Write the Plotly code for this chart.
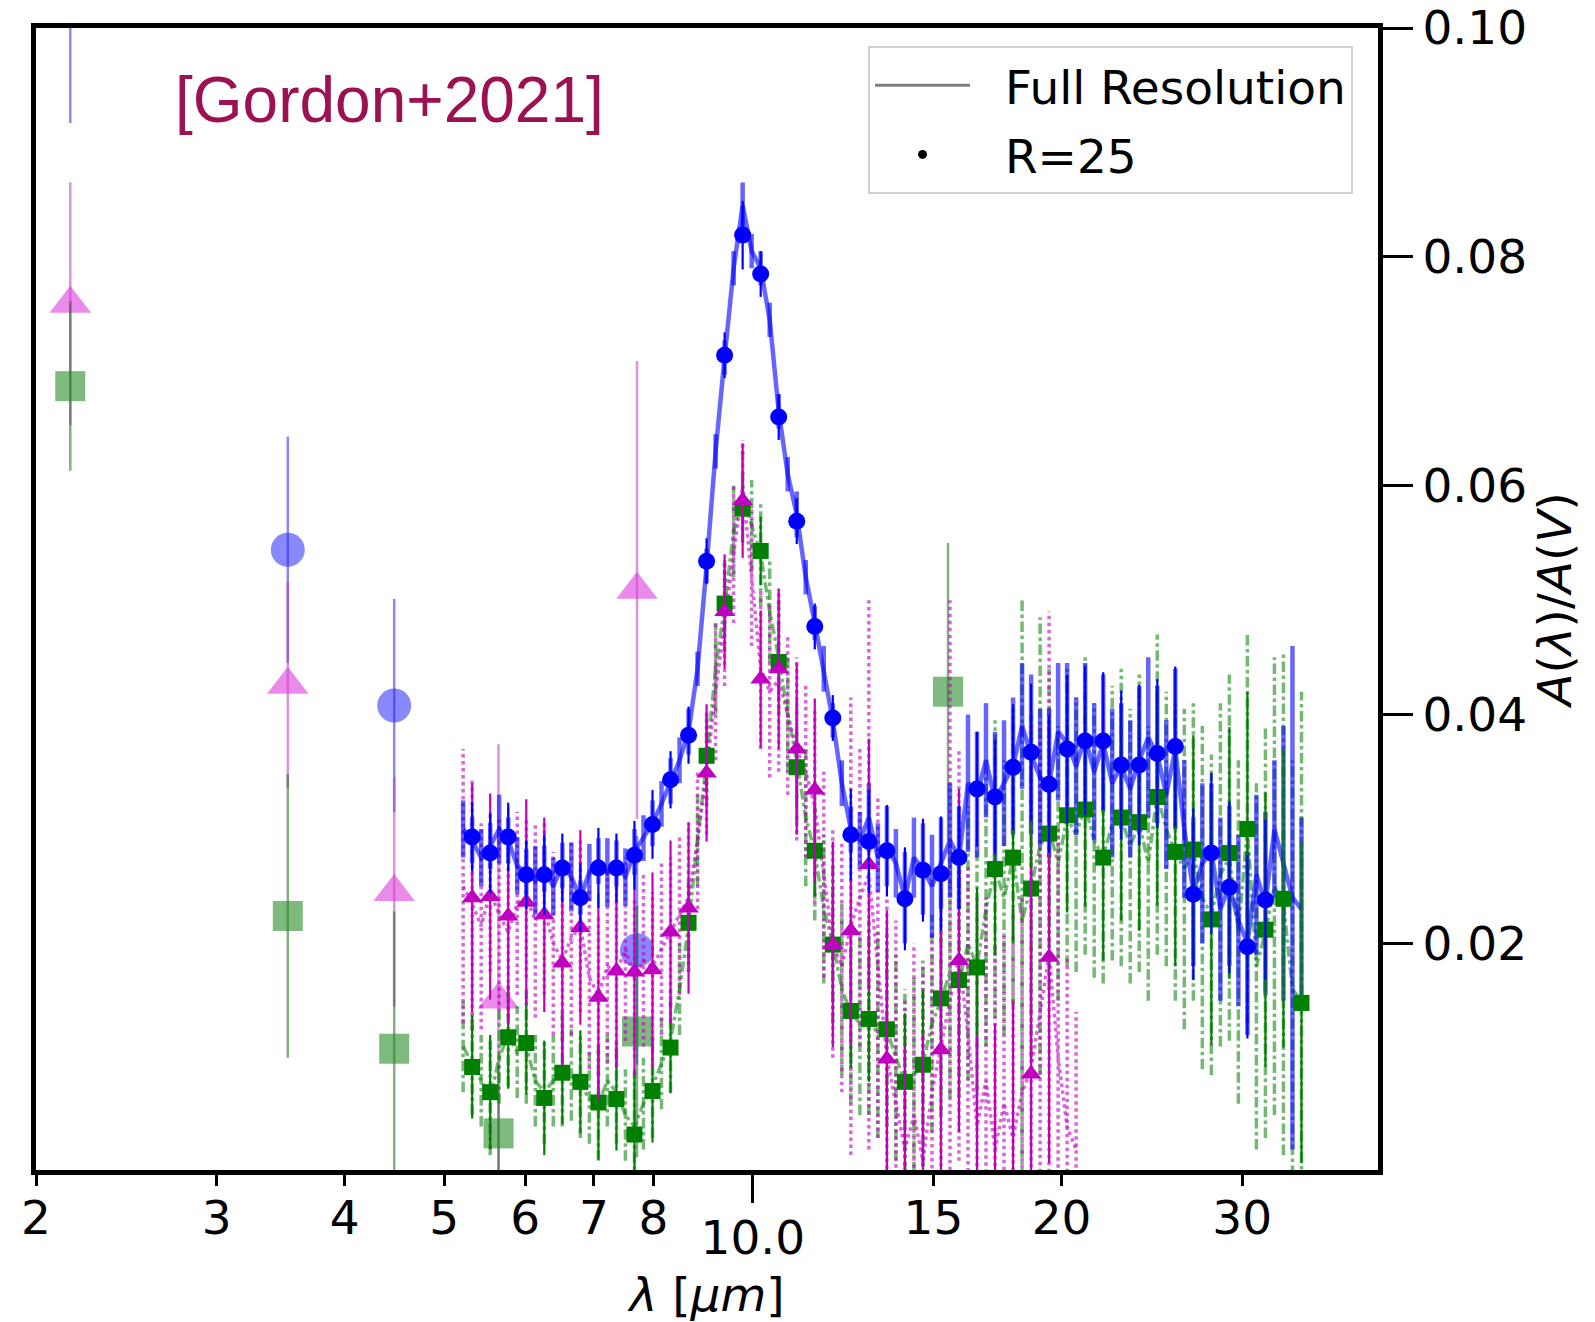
import math
import plotly.graph_objects as go

# ---------------- data ----------------
# R=25 binned wavelengths (micron)
R25_WAVE = [5.325, 5.545, 5.774, 6.013, 6.261, 6.520, 6.789, 7.070, 7.362, 7.666,
            7.983, 8.313, 8.656, 9.014, 9.386, 9.774, 10.178, 10.598, 11.036, 11.492,
            11.967, 12.461, 12.976, 13.512, 14.070, 14.651, 15.256, 15.886, 16.542, 17.225,
            17.937, 18.678, 19.449, 20.252, 21.089, 21.960, 22.867, 23.811, 24.795, 25.819,
            26.885, 27.996, 29.152, 30.356, 31.610, 32.915, 34.275]

BLUE_R25 = [0.0293, 0.0279, 0.0293, 0.0260, 0.0260, 0.0266, 0.0240, 0.0266, 0.0266, 0.0277,
            0.0304, 0.0343, 0.0382, 0.0534, 0.0714, 0.0819, 0.0785, 0.0660, 0.0569, 0.0477,
            0.0397, 0.0295, 0.0289, 0.0281, 0.0239, 0.0264, 0.0261, 0.0275, 0.0335, 0.0328,
            0.0354, 0.0367, 0.0339, 0.0370, 0.0377, 0.0377, 0.0356, 0.0356, 0.0366, 0.0372,
            0.0243, 0.0279, 0.0249, 0.0197, 0.0238]
BLUE_R25_ERR = [0.0030, 0.0035, 0.0030, 0.0030, 0.0035, 0.0030, 0.0030, 0.0035, 0.0030, 0.0030,
                0.0030, 0.0025, 0.0025, 0.0020, 0.0020, 0.0030, 0.0020, 0.0020, 0.0020, 0.0020,
                0.0020, 0.0040, 0.0045, 0.0040, 0.0045, 0.0045, 0.0050, 0.0045, 0.0050, 0.0050,
                0.0055, 0.0060, 0.0060, 0.0065, 0.0065, 0.0060, 0.0065, 0.0070, 0.0065, 0.0070,
                0.0075, 0.0070, 0.0075, 0.0080, 0.0070]

MAG_R25 = [0.0240, 0.0241, 0.0224, 0.0236, 0.0225, 0.0183, 0.0214, 0.0153, 0.0176, 0.0175,
           0.0177, 0.0210, 0.0231, 0.0349, 0.0490, 0.0587, 0.0431, 0.0440, 0.0370, 0.0334,
           0.0199, 0.0211, 0.0269, 0.0099, -0.0030, -0.0020, 0.0107, 0.0185, -0.0040, -0.0030,
           -0.0020, 0.0086, 0.0188]
MAG_R25_ERR = [0.0100, 0.0090, 0.0095, 0.0090, 0.0085, 0.0090, 0.0085, 0.0090, 0.0085, 0.0090,
               0.0085, 0.0080, 0.0075, 0.0060, 0.0050, 0.0050, 0.0060, 0.0070, 0.0075, 0.0080,
               0.0090, 0.0100, 0.0110, 0.0130, 0.0140, 0.0140, 0.0150, 0.0150, 0.0160, 0.0160,
               0.0170, 0.0180, 0.0180]

GRN_R25 = [0.0092, 0.0070, 0.0118, 0.0113, 0.0065, 0.0087, 0.0079, 0.0061, 0.0064, 0.0033,
           0.0071, 0.0109, 0.0218, 0.0364, 0.0497, 0.0580, 0.0543, 0.0446, 0.0354, 0.0281,
           0.0199, 0.0141, 0.0134, 0.0125, 0.0079, 0.0094, 0.0152, 0.0168, 0.0179, 0.0265,
           0.0275, 0.0248, 0.0296, 0.0312, 0.0317, 0.0275, 0.0310, 0.0306, 0.0328, 0.0280,
           0.0282, 0.0221, 0.0279, 0.0300, 0.0212, 0.0239, 0.0148]
GRN_R25_ERR = [0.0045, 0.0050, 0.0045, 0.0045, 0.0050, 0.0045, 0.0045, 0.0050, 0.0045, 0.0055,
               0.0045, 0.0040, 0.0035, 0.0030, 0.0030, 0.0030, 0.0030, 0.0035, 0.0035, 0.0040,
               0.0045, 0.0050, 0.0055, 0.0060, 0.0060, 0.0065, 0.0065, 0.0070, 0.0070, 0.0075,
               0.0075, 0.0080, 0.0080, 0.0085, 0.0085, 0.0090, 0.0090, 0.0095, 0.0095, 0.0100,
               0.0100, 0.0110, 0.0110, 0.0120, 0.0120, 0.0130, 0.0140]

# Full-resolution spectra (sampled)
FULL_WAVE = [5.218, 5.325, 5.434, 5.545, 5.658, 5.774, 5.892, 6.013, 6.136, 6.261,
             6.389, 6.520, 6.653, 6.789, 6.928, 7.070, 7.214, 7.362, 7.512, 7.666,
             7.823, 7.983, 8.146, 8.313, 8.483, 8.656, 8.833, 9.014, 9.198, 9.386,
             9.578, 9.774, 9.974, 10.178, 10.386, 10.598, 10.815, 11.036, 11.262, 11.492,
             11.727, 11.967, 12.212, 12.461, 12.716, 12.976, 13.241, 13.512, 13.788, 14.070,
             14.358, 14.651, 14.951, 15.256, 15.568, 15.886, 16.211, 16.542, 16.880, 17.225,
             17.577, 17.937, 18.304, 18.678, 19.060, 19.449, 19.847, 20.252, 20.666, 21.089,
             21.520, 21.960, 22.409, 22.867, 23.335, 23.811, 24.298, 24.795, 25.302, 25.819,
             26.347, 26.885, 27.435, 27.996, 28.568, 29.152, 29.748, 30.356, 30.977, 31.610,
             32.256, 32.915, 33.588, 34.275]

BLUE_FULL = [0.0300, 0.0290, 0.0275, 0.0285, 0.0300, 0.0290, 0.0268, 0.0262, 0.0255, 0.0265,
             0.0250, 0.0268, 0.0258, 0.0240, 0.0262, 0.0272, 0.0262, 0.0270, 0.0258, 0.0280,
             0.0292, 0.0305, 0.0322, 0.0342, 0.0360, 0.0385, 0.0440, 0.0530, 0.0630, 0.0712,
             0.0790, 0.0845, 0.0805, 0.0790, 0.0745, 0.0665, 0.0610, 0.0575, 0.0520, 0.0480,
             0.0440, 0.0395, 0.0340, 0.0300, 0.0290, 0.0310, 0.0275, 0.0285, 0.0270, 0.0240,
             0.0275, 0.0265, 0.0250, 0.0270, 0.0290, 0.0275, 0.0340, 0.0330, 0.0360, 0.0325,
             0.0340, 0.0355, 0.0390, 0.0365, 0.0345, 0.0340, 0.0385, 0.0375, 0.0355, 0.0380,
             0.0350, 0.0375, 0.0340, 0.0355, 0.0335, 0.0360, 0.0380, 0.0365, 0.0330, 0.0370,
             0.0300, 0.0245, 0.0270, 0.0280, 0.0230, 0.0250, 0.0220, 0.0200, 0.0260, 0.0235,
             0.0300, 0.0270, 0.0240, 0.0230]
BLUE_FULL_ERR = [0.0025, 0.0020, 0.0025, 0.0020, 0.0030, 0.0020, 0.0025, 0.0020, 0.0030, 0.0020,
                 0.0025, 0.0020, 0.0030, 0.0015, 0.0025, 0.0020, 0.0030, 0.0020, 0.0025, 0.0020,
                 0.0020, 0.0020, 0.0020, 0.0020, 0.0020, 0.0020, 0.0015, 0.0015, 0.0015, 0.0015,
                 0.0015, 0.0020, 0.0015, 0.0015, 0.0015, 0.0015, 0.0015, 0.0020, 0.0015, 0.0015,
                 0.0020, 0.0015, 0.0020, 0.0020, 0.0025, 0.0030, 0.0030, 0.0035, 0.0030, 0.0040,
                 0.0035, 0.0040, 0.0045, 0.0040, 0.0050, 0.0045, 0.0060, 0.0055, 0.0050, 0.0060,
                 0.0055, 0.0060, 0.0055, 0.0070, 0.0060, 0.0065, 0.0060, 0.0070, 0.0060, 0.0065,
                 0.0060, 0.0060, 0.0065, 0.0055, 0.0060, 0.0065, 0.0070, 0.0060, 0.0065, 0.0070,
                 0.0060, 0.0065, 0.0070, 0.0060, 0.0080, 0.0070, 0.0075, 0.0080, 0.0070, 0.0080,
                 0.0060, 0.0120, 0.0220, 0.0080]

MAG_FULL = [0.0250, 0.0235, 0.0215, 0.0245, 0.0225, 0.0210, 0.0235, 0.0240, 0.0220, 0.0230,
            0.0200, 0.0185, 0.0205, 0.0215, 0.0170, 0.0155, 0.0180, 0.0175, 0.0195, 0.0170,
            0.0185, 0.0180, 0.0195, 0.0210, 0.0225, 0.0240, 0.0290, 0.0350, 0.0420, 0.0480,
            0.0540, 0.0600, 0.0520, 0.0440, 0.0420, 0.0430, 0.0400, 0.0370, 0.0350, 0.0320,
            0.0260, 0.0200, 0.0180, 0.0215, 0.0240, 0.0260, 0.0180, 0.0100, 0.0060, 0.0020,
            0.0050, 0.0010, 0.0070, 0.0110, 0.0150, 0.0190, 0.0120, 0.0040, 0.0080, 0.0020,
            0.0060, 0.0030, 0.0070, 0.0090, 0.0140, 0.0190, 0.0100, 0.0040, 0.0020]
MAG_FULL_ERR = [0.0120, 0.0110, 0.0090, 0.0070, 0.0085, 0.0075, 0.0080, 0.0070, 0.0085, 0.0075,
                0.0080, 0.0070, 0.0085, 0.0075, 0.0080, 0.0070, 0.0085, 0.0075, 0.0080, 0.0070,
                0.0075, 0.0065, 0.0075, 0.0065, 0.0070, 0.0065, 0.0060, 0.0055, 0.0060, 0.0055,
                0.0060, 0.0040, 0.0060, 0.0070, 0.0075, 0.0080, 0.0070, 0.0080, 0.0075, 0.0085,
                0.0090, 0.0100, 0.0110, 0.0200, 0.0130, 0.0240, 0.0150, 0.0140, 0.0160, 0.0130,
                0.0150, 0.0170, 0.0140, 0.0160, 0.0350, 0.0180, 0.0150, 0.0200, 0.0160, 0.0180,
                0.0150, 0.0200, 0.0170, 0.0300, 0.0250, 0.0300, 0.0200, 0.0150, 0.0120]

GRN_FULL = [0.0110, 0.0095, 0.0080, 0.0065, 0.0100, 0.0120, 0.0105, 0.0110, 0.0080, 0.0070,
            0.0080, 0.0090, 0.0085, 0.0075, 0.0065, 0.0060, 0.0080, 0.0070, 0.0050, 0.0040,
            0.0060, 0.0075, 0.0095, 0.0115, 0.0160, 0.0215, 0.0290, 0.0360, 0.0440, 0.0495,
            0.0560, 0.0590, 0.0565, 0.0540, 0.0490, 0.0450, 0.0400, 0.0360, 0.0310, 0.0280,
            0.0230, 0.0200, 0.0160, 0.0140, 0.0130, 0.0135, 0.0120, 0.0125, 0.0100, 0.0080,
            0.0085, 0.0095, 0.0130, 0.0150, 0.0175, 0.0165, 0.0200, 0.0180, 0.0230, 0.0265,
            0.0240, 0.0275, 0.0220, 0.0250, 0.0285, 0.0300, 0.0270, 0.0310, 0.0295, 0.0320,
            0.0290, 0.0275, 0.0305, 0.0310, 0.0285, 0.0305, 0.0270, 0.0330, 0.0300, 0.0280,
            0.0265, 0.0280, 0.0240, 0.0225, 0.0260, 0.0275, 0.0210, 0.0300, 0.0180, 0.0210,
            0.0250, 0.0235, 0.0160, 0.0150]
GRN_FULL_ERR = [0.0040, 0.0045, 0.0040, 0.0050, 0.0040, 0.0045, 0.0040, 0.0050, 0.0040, 0.0045,
                0.0040, 0.0050, 0.0040, 0.0045, 0.0040, 0.0050, 0.0040, 0.0045, 0.0040, 0.0050,
                0.0040, 0.0045, 0.0040, 0.0045, 0.0040, 0.0040, 0.0040, 0.0040, 0.0040, 0.0040,
                0.0040, 0.0040, 0.0040, 0.0045, 0.0045, 0.0050, 0.0050, 0.0055, 0.0060, 0.0060,
                0.0065, 0.0070, 0.0075, 0.0080, 0.0080, 0.0085, 0.0090, 0.0085, 0.0090, 0.0080,
                0.0085, 0.0090, 0.0095, 0.0100, 0.0110, 0.0100, 0.0120, 0.0110, 0.0120, 0.0130,
                0.0120, 0.0130, 0.0280, 0.0150, 0.0200, 0.0140, 0.0120, 0.0130, 0.0120, 0.0130,
                0.0120, 0.0110, 0.0120, 0.0130, 0.0120, 0.0130, 0.0120, 0.0140, 0.0120, 0.0130,
                0.0140, 0.0130, 0.0150, 0.0140, 0.0150, 0.0160, 0.0150, 0.0170, 0.0160, 0.0180,
                0.0200, 0.0220, 0.0200, 0.0270]

# Photometric points (large, faded)
PHOT_WAVE = [2.16, 3.52, 4.47, 5.65, 7.71, 15.5]
BLUE_PHOT = [0.1060, 0.0544, 0.0408, None, 0.0194, None]
BLUE_PHOT_ERR = [0.0143, 0.0099, 0.0093, 0.0, 0.0100, 0.0]
MAG_PHOT = [0.0759, 0.0426, 0.0245, 0.0151, 0.0509, None]
MAG_PHOT_ERR = [0.0106, 0.0090, 0.0100, 0.0223, 0.0200, 0.0]
GRN_PHOT = [0.0687, 0.0224, 0.0108, 0.0034, 0.0123, 0.0420]
GRN_PHOT_ERR = [0.0074, 0.0124, 0.0120, 0.0060, 0.0110, 0.0130]

X_TICKS = [2, 3, 4, 5, 6, 7, 8, 15, 20, 30]
X_TICK_TEXT = ["2", "3", "4", "5", "6", "7", "8", "15", "20", "30"]
X_MAJOR = [10]
X_MAJOR_TEXT = ["10.0"]
Y_TICKS = [0.02, 0.04, 0.06, 0.08, 0.10]
Y_TICK_TEXT = ["0.02", "0.04", "0.06", "0.08", "0.10"]

# ---------------- figure ----------------
FONT = "DejaVu Sans"
FS = 47
fig = go.Figure()


def err_segments(xs, ys, es):
    sx, sy = [], []
    for x, y, e in zip(xs, ys, es):
        if y is None:
            continue
        sx += [x, x, None]
        sy += [y - e, y + e, None]
    return sx, sy


# photometric points
for ys, es, col, ecol, sym, size in [
    (BLUE_PHOT, BLUE_PHOT_ERR, "rgba(40,40,255,0.55)", "rgba(40,40,230,0.55)", "circle", 34),
    (MAG_PHOT, MAG_PHOT_ERR, "rgba(220,60,220,0.6)", "rgba(190,60,190,0.55)", "triangle-up", 36),
    (GRN_PHOT, GRN_PHOT_ERR, "rgba(40,140,40,0.6)", "rgba(30,110,30,0.55)", "square", 30),
]:
    fig.add_trace(go.Scatter(
        x=PHOT_WAVE, y=ys, mode="markers",
        marker=dict(symbol=sym, size=size, color=col, line=dict(width=0)),
        error_y=dict(type="data", array=es, visible=True, color=ecol, thickness=2.5, width=0),
        showlegend=False, hoverinfo="skip"))

# full resolution spectra + error bars
full_specs = [
    (GRN_FULL, GRN_FULL_ERR, "rgba(0,128,0,0.55)", "dashdot", 3.5),
    (MAG_FULL, MAG_FULL_ERR, "rgba(191,0,191,0.6)", "dot", 3.5),
    (BLUE_FULL, BLUE_FULL_ERR, "rgba(0,0,255,0.6)", "solid", 4.5),
]
for ys, es, col, dash, w in full_specs:
    xs = FULL_WAVE[:len(ys)]
    sx, sy = err_segments(xs, ys, es)
    fig.add_trace(go.Scatter(x=sx, y=sy, mode="lines",
                             line=dict(color=col, width=w, dash=dash),
                             showlegend=False, hoverinfo="skip"))
    fig.add_trace(go.Scatter(x=xs, y=ys, mode="lines",
                             line=dict(color=col, width=w, dash=dash),
                             showlegend=False, hoverinfo="skip"))

# R=25 points
for ys, es, col, sym, size in [
    (GRN_R25, GRN_R25_ERR, "#008000", "square", 16),
    (MAG_R25, MAG_R25_ERR, "#bf00bf", "triangle-up", 18),
    (BLUE_R25, BLUE_R25_ERR, "#0000ff", "circle", 17),
]:
    fig.add_trace(go.Scatter(
        x=R25_WAVE[:len(ys)], y=ys, mode="markers",
        marker=dict(symbol=sym, size=size, color=col, line=dict(width=0)),
        error_y=dict(type="data", array=es, visible=True, color=col, thickness=2.2, width=0),
        showlegend=False, hoverinfo="skip"))

# legend entries
NB = "\u00a0\u00a0"
fig.add_trace(go.Scatter(x=[None], y=[None], mode="lines", name=NB + "Full Resolution",
                         legendgroup="a", line=dict(color="#808080", width=3)))
fig.add_trace(go.Scatter(x=[None], y=[None], mode="markers", name=NB + "R=25",
                         legendgroup="b", marker=dict(color="black", size=9)))

# dummy trace on the major-tick axis
fig.add_trace(go.Scatter(x=X_MAJOR, y=[None], xaxis="x2", mode="markers",
                         showlegend=False, hoverinfo="skip"))

xr = [math.log10(2), math.log10(40.7)]

fig.update_layout(
    width=1595, height=1322,
    margin=dict(l=36, r=217, t=28, b=152),
    paper_bgcolor="white", plot_bgcolor="white",
    font=dict(family=FONT, size=FS, color="black"),
    showlegend=True,
    legend=dict(x=0.9814, y=0.984, xanchor="right", yanchor="top",
                bgcolor="white", bordercolor="#d0d0d0", borderwidth=2,
                font=dict(family=FONT, size=FS, color="black"),
                itemwidth=95, tracegroupgap=5, traceorder="grouped"),
    xaxis=dict(type="log", range=xr, tickmode="array", tickvals=X_TICKS, ticktext=X_TICK_TEXT,
               ticks="outside", ticklen=11, tickwidth=3, tickcolor="black",
               showline=True, linecolor="black", linewidth=5, mirror=True,
               showgrid=False, zeroline=False, automargin=False, ticklabelstandoff=-8,
               tickfont=dict(family=FONT, size=FS, color="black"),
               title=dict(text="<i>λ</i> [<i>μm</i>]", font=dict(family=FONT, size=FS, color="black"),
                          standoff=38)),
    xaxis2=dict(type="log", range=xr, overlaying="x", side="bottom", anchor="y",
                tickmode="array", tickvals=X_MAJOR, ticktext=X_MAJOR_TEXT,
                ticks="outside", ticklen=32, tickwidth=3, tickcolor="black",
                showline=False, showgrid=False, zeroline=False, automargin=False,
                ticklabelstandoff=-5,
                tickfont=dict(family=FONT, size=FS, color="black")),
    yaxis=dict(range=[0.0002, 0.100], side="right", tickmode="array",
               tickvals=Y_TICKS, ticktext=Y_TICK_TEXT,
               ticks="outside", ticklen=30, tickwidth=3, tickcolor="black",
               showline=True, linecolor="black", linewidth=5, mirror=True,
               showgrid=False, zeroline=False, automargin=False,
               tickfont=dict(family=FONT, size=FS, color="black"),
               title=dict(text="<i>A</i>(<i>λ</i>)/<i>A</i>(<i>V</i>)",
                          font=dict(family=FONT, size=FS, color="black"), standoff=6)),
    annotations=[dict(text="[Gordon+2021]", xref="paper", yref="paper",
                      x=0.102, y=0.937, xanchor="left", yanchor="middle", showarrow=False,
                      font=dict(family="Liberation Sans", size=64, color="#9b1152"))],
)

fig.write_html("out.html")
